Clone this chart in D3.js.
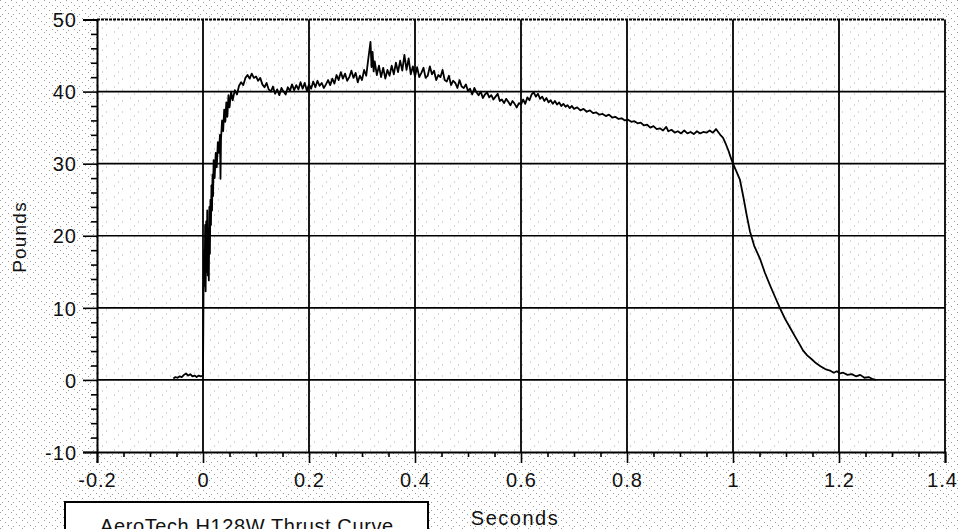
<!DOCTYPE html>
<html>
<head>
<meta charset="utf-8">
<script src="https://cdn.jsdelivr.net/npm/d3@7"></script>
<style>
  html, body { margin: 0; padding: 0; background: #fff; }
  svg { display: block; }
  text { font-family: "Liberation Sans", Arial, sans-serif; fill: #111; }
</style>
</head>
<body>
<div id="chart"></div>
<script>
// Data: thrust trace, [seconds, pounds]
const preIgnition = [
  [-0.056, 0.2], [-0.052, 0.4], [-0.048, 0.3], [-0.044, 0.5], [-0.040, 0.4], [-0.036, 0.7],
  [-0.032, 0.9], [-0.028, 0.6], [-0.024, 0.8], [-0.020, 0.5], [-0.016, 0.6], [-0.012, 0.4],
  [-0.008, 0.6], [-0.004, 0.5], [0.000, 0.6]
];
const ignition = [
  [0.001, 12.5], [0.002, 18.0], [0.003, 13.0], [0.004, 21.5], [0.005, 12.3], [0.006, 22.0],
  [0.007, 15.0], [0.008, 23.5], [0.009, 14.5], [0.010, 20.5], [0.011, 13.8], [0.012, 24.0],
  [0.013, 17.5], [0.014, 25.0], [0.015, 21.5], [0.016, 27.0], [0.017, 23.5], [0.018, 28.5],
  [0.019, 25.5], [0.020, 30.5], [0.022, 28.0], [0.024, 31.5], [0.026, 29.5], [0.028, 33.0],
  [0.030, 31.5], [0.032, 34.0], [0.033, 27.9], [0.034, 33.5], [0.036, 36.0], [0.038, 34.5],
  [0.040, 37.5], [0.042, 35.8], [0.044, 38.5], [0.046, 36.5], [0.048, 39.5], [0.050, 37.8],
  [0.053, 40.0], [0.056, 38.8], [0.060, 40.2], [0.064, 39.6], [0.068, 40.8], [0.072, 41.3],
  [0.076, 40.9], [0.080, 41.9], [0.084, 42.3], [0.088, 41.8], [0.092, 42.5], [0.096, 41.9],
  [0.100, 42.1], [0.104, 41.5], [0.108, 41.9], [0.112, 41.0], [0.116, 40.6], [0.120, 41.2],
  [0.124, 40.3], [0.128, 40.0], [0.132, 40.7], [0.136, 39.7], [0.140, 40.3], [0.144, 39.5],
  [0.148, 40.5], [0.152, 40.0], [0.156, 39.6], [0.160, 40.6], [0.164, 40.1], [0.168, 41.0],
  [0.172, 40.2], [0.176, 40.9], [0.180, 40.3], [0.184, 41.3], [0.188, 40.4], [0.192, 41.2],
  [0.196, 40.1], [0.200, 41.0]
];
const peakBurn = [
  [0.204, 40.4], [0.208, 41.4], [0.212, 40.6], [0.216, 41.5], [0.220, 40.8], [0.224, 41.2],
  [0.228, 40.5], [0.232, 41.0], [0.236, 41.6], [0.240, 40.9], [0.244, 41.8], [0.248, 41.1],
  [0.252, 42.3], [0.256, 41.6], [0.260, 42.7], [0.264, 41.8], [0.268, 42.5], [0.272, 41.5],
  [0.276, 42.0], [0.280, 42.9], [0.284, 41.9], [0.288, 42.6], [0.292, 41.3], [0.296, 42.2],
  [0.300, 41.6], [0.304, 43.0], [0.308, 42.2], [0.312, 44.6], [0.316, 46.9], [0.318, 43.4],
  [0.320, 45.5], [0.322, 42.8], [0.324, 44.2], [0.328, 42.3], [0.332, 43.6], [0.336, 42.0],
  [0.340, 43.3], [0.344, 41.8], [0.348, 43.0], [0.352, 42.2], [0.356, 43.6], [0.360, 42.4],
  [0.364, 44.0], [0.368, 42.7], [0.372, 44.3], [0.376, 42.9], [0.380, 45.1], [0.384, 43.0],
  [0.388, 44.6], [0.392, 42.4], [0.396, 43.5], [0.400, 42.1], [0.404, 43.4], [0.408, 42.0],
  [0.412, 42.6], [0.416, 43.3], [0.420, 41.9], [0.424, 42.2], [0.428, 43.5], [0.432, 42.4],
  [0.436, 42.9], [0.440, 41.6], [0.444, 42.3], [0.448, 42.0], [0.452, 43.0], [0.456, 41.6],
  [0.460, 41.4], [0.464, 42.2], [0.468, 40.9], [0.472, 41.5], [0.476, 41.2], [0.480, 40.5],
  [0.484, 41.6], [0.488, 40.7], [0.492, 40.5], [0.496, 41.0], [0.500, 40.1], [0.504, 40.4],
  [0.508, 39.6], [0.512, 40.5], [0.516, 39.9], [0.520, 39.5], [0.524, 40.0], [0.528, 39.1],
  [0.532, 39.6], [0.536, 39.9], [0.540, 39.2], [0.544, 39.5], [0.548, 38.9], [0.552, 39.3],
  [0.556, 39.7], [0.560, 38.7], [0.564, 38.9], [0.568, 38.4], [0.572, 39.0], [0.576, 38.6],
  [0.580, 38.1], [0.584, 38.7], [0.588, 38.3], [0.592, 37.8], [0.596, 38.4]
];
const sustain = [
  [0.600, 38.2], [0.604, 38.9], [0.608, 38.3], [0.612, 39.2], [0.616, 38.8], [0.620, 39.6],
  [0.624, 39.9], [0.628, 39.3], [0.632, 39.7], [0.636, 39.0], [0.640, 39.3], [0.644, 38.7],
  [0.648, 39.1], [0.652, 38.5], [0.656, 38.8], [0.660, 38.3], [0.664, 38.7], [0.668, 38.2],
  [0.672, 38.5], [0.676, 38.0], [0.680, 38.3], [0.684, 37.9], [0.688, 38.1], [0.692, 37.7],
  [0.696, 38.0], [0.700, 37.6], [0.706, 37.8], [0.712, 37.4], [0.718, 37.6], [0.724, 37.2],
  [0.730, 37.4], [0.736, 37.0], [0.742, 37.1], [0.748, 36.8], [0.754, 36.9], [0.760, 36.6],
  [0.766, 36.8], [0.772, 36.4], [0.778, 36.5], [0.784, 36.2], [0.790, 36.3], [0.796, 36.0],
  [0.802, 36.1], [0.808, 35.8], [0.814, 35.9], [0.820, 35.6], [0.826, 35.7], [0.832, 35.3],
  [0.838, 35.4], [0.844, 35.0], [0.850, 35.2], [0.856, 34.8], [0.862, 34.9], [0.868, 34.6],
  [0.874, 35.1], [0.878, 34.5], [0.884, 34.7], [0.890, 34.3], [0.896, 34.5], [0.902, 34.2],
  [0.908, 34.6], [0.914, 34.2], [0.920, 34.4], [0.926, 34.1], [0.932, 34.5], [0.938, 34.2],
  [0.944, 34.4], [0.950, 34.3], [0.956, 34.6], [0.962, 34.3], [0.968, 34.8], [0.972, 34.4]
];
const tailOff = [
  [0.976, 34.0], [0.981, 33.6], [0.986, 32.8], [0.991, 31.9], [0.996, 30.8], [1.000, 30.0],
  [1.006, 29.0], [1.013, 27.8], [1.020, 25.2], [1.026, 22.8], [1.032, 20.6], [1.040, 18.6],
  [1.051, 16.8], [1.060, 14.9], [1.070, 13.1], [1.080, 11.4], [1.089, 9.9], [1.098, 8.5],
  [1.108, 7.2], [1.118, 5.9], [1.126, 4.9], [1.132, 4.1], [1.140, 3.4], [1.148, 2.9],
  [1.157, 2.3], [1.165, 1.9], [1.174, 1.5], [1.183, 1.3], [1.190, 1.0], [1.196, 1.2],
  [1.202, 0.9], [1.208, 1.0], [1.216, 0.7], [1.224, 0.8], [1.232, 0.5], [1.240, 0.7],
  [1.248, 0.3], [1.256, 0.4], [1.264, 0.1], [1.270, 0.0]
];

// Axes
const xTicks = [-0.2, 0, 0.2, 0.4, 0.6, 0.8, 1, 1.2, 1.4];
const yTicks = [-10, 0, 10, 20, 30, 40, 50];
const xLabel = "Seconds";
const yLabel = "Pounds";
const boxTitle = "AeroTech H128W Thrust Curve";

// Dimensions
const W = 959, H = 529;
const margin = { top: 19.5, right: 14, bottom: 77, left: 97 };
const innerW = W - margin.left - margin.right;
const innerH = H - margin.top - margin.bottom;

const svg = d3.select("#chart").append("svg")
  .attr("width", W)
  .attr("height", H);

// Speckled scan background
const defs = svg.append("defs");
const pat = defs.append("pattern")
  .attr("id", "speckle")
  .attr("patternUnits", "userSpaceOnUse")
  .attr("width", 11).attr("height", 8);
[[0, 0], [5, 2], [8, 5], [2, 6]].forEach(p => {
  pat.append("rect").attr("x", p[0]).attr("y", p[1])
    .attr("width", 1).attr("height", 1).attr("fill", "#9a9a9a");
});
const pat2 = defs.append("pattern")
  .attr("id", "speckleLight")
  .attr("patternUnits", "userSpaceOnUse")
  .attr("width", 16).attr("height", 11);
[[1, 1], [9, 4], [5, 8]].forEach(p => {
  pat2.append("rect").attr("x", p[0]).attr("y", p[1])
    .attr("width", 1).attr("height", 1).attr("fill", "#aaa");
});

svg.append("rect").attr("width", W).attr("height", H).attr("fill", "#fff");
svg.append("rect").attr("width", W).attr("height", H).attr("fill", "url(#speckle)");

const g = svg.append("g")
  .attr("transform", `translate(${margin.left},${margin.top})`);

g.append("rect").attr("width", innerW).attr("height", innerH).attr("fill", "#fff");
g.append("rect").attr("width", innerW).attr("height", innerH).attr("fill", "url(#speckleLight)");

// Scales
const x = d3.scaleLinear().domain([-0.2, 1.4]).range([0, innerW]);
const y = d3.scaleLinear().domain([-10, 50]).range([innerH, 0]);

// Plain hyphen for negatives, like the original
const fmt = d => String(+d.toFixed(1));

// Grid
g.append("g").selectAll("line")
  .data(xTicks.filter(d => d > -0.2 && d < 1.4))
  .enter().append("line")
  .attr("x1", d => x(d)).attr("x2", d => x(d))
  .attr("y1", 0).attr("y2", innerH)
  .attr("stroke", "#000").attr("stroke-width", 1.8);

g.append("g").selectAll("line")
  .data(yTicks.filter(d => d > -10 && d < 50))
  .enter().append("line")
  .attr("x1", 0).attr("x2", innerW)
  .attr("y1", d => y(d)).attr("y2", d => y(d))
  .attr("stroke", "#000").attr("stroke-width", 1.6);

// Frame: top dotted, right solid
g.append("line")
  .attr("x1", 0).attr("x2", innerW).attr("y1", 0).attr("y2", 0)
  .attr("stroke", "#000").attr("stroke-width", 1.8)
  .attr("stroke-dasharray", "3,1");
g.append("line")
  .attr("x1", innerW).attr("x2", innerW).attr("y1", 0).attr("y2", innerH)
  .attr("stroke", "#000").attr("stroke-width", 1.8);

// Y axis
const yAxis = g.append("g")
  .call(d3.axisLeft(y).tickValues(yTicks).tickSize(14).tickPadding(6).tickFormat(fmt));
g.append("g")
  .call(d3.axisLeft(y).tickValues(d3.range(-10, 50, 2).filter(d => d % 10 !== 0)).tickSize(6).tickFormat(""))
  .call(s => s.select(".domain").remove());

// X axis
const xAxis = g.append("g")
  .attr("transform", `translate(0,${innerH})`)
  .call(d3.axisBottom(x).tickValues(xTicks).tickSize(11).tickPadding(10).tickFormat(fmt));
g.append("g")
  .attr("transform", `translate(0,${innerH})`)
  .call(d3.axisBottom(x).tickValues(d3.range(-0.15, 1.4, 0.05).filter(d => Math.abs(d * 5 - Math.round(d * 5)) > 0.01)).tickSize(5).tickFormat(""))
  .call(s => s.select(".domain").remove());

g.selectAll(".domain").attr("stroke", "#000").attr("stroke-width", 2);
g.selectAll(".tick line").attr("stroke", "#000").attr("stroke-width", 1.6);
g.selectAll(".tick text")
  .style("font-size", "20px")
  .style("letter-spacing", "1px")
  .style("font-family", "'Liberation Sans', Arial, sans-serif")
  .attr("fill", "#111");
xAxis.selectAll(".tick text").attr("dy", "0.71em");
xAxis.selectAll(".tick:last-of-type text").attr("dx", "-3");
yAxis.selectAll(".tick text").attr("dy", "0.36em");

// Thrust trace
const trace = [].concat(preIgnition, ignition, peakBurn, sustain, tailOff);
const line = d3.line().x(d => x(d[0])).y(d => y(d[1]));
g.append("path")
  .datum(trace)
  .attr("d", line)
  .attr("fill", "none")
  .attr("stroke", "#000")
  .attr("stroke-width", 1.8)
  .attr("stroke-linejoin", "round");

// Axis titles
svg.append("text")
  .attr("transform", "translate(26,237) rotate(-90)")
  .attr("text-anchor", "middle")
  .style("font-size", "19px")
  .style("letter-spacing", "1.2px")
  .text(yLabel);

svg.append("text")
  .attr("x", 515).attr("y", 525)
  .attr("text-anchor", "middle")
  .style("font-size", "20px")
  .style("letter-spacing", "1.5px")
  .text(xLabel);

// Title box at the bottom left
svg.append("rect")
  .attr("x", 65).attr("y", 502)
  .attr("width", 363).attr("height", 60)
  .attr("fill", "#fff")
  .attr("stroke", "#000")
  .attr("stroke-width", 2);
svg.append("text")
  .attr("x", 100).attr("y", 533)
  .style("font-size", "20px")
  .style("letter-spacing", "0.6px")
  .text(boxTitle);
</script>
</body>
</html>
